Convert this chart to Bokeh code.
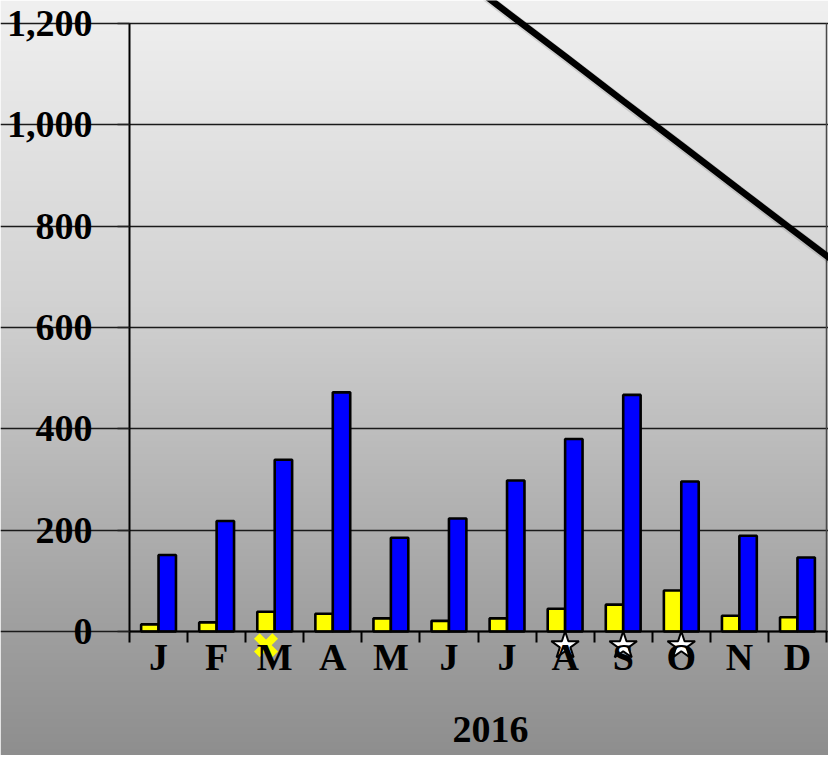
import numpy as np
from bokeh.plotting import figure
from bokeh.models import (FixedTicker, NumeralTickFormatter, CustomJSTickFormatter,
                          Range1d, Label, ColumnDataSource)
from bokeh.embed import file_html
from bokeh.resources import INLINE

# ---------------- data ----------------
months = ["J", "F", "M", "A", "M", "J", "J", "A", "S", "O", "N", "D"]
yellow_values = [14, 18, 39, 35, 26, 21, 26, 45, 53, 81, 31, 28]
blue_values = [151, 218, 339, 472, 185, 223, 298, 380, 467, 296, 189, 146]
# straight descending series (Jun 2016 .. Jan 2017), runs off the chart
trend_start_index = 5
trend_values = [1310, 1222, 1135, 1047, 960, 872, 785, 698]
y_ticks = [0, 200, 400, 600, 800, 1000, 1200]
year_label = "2016"
cross_months = [2]          # yellow X marker under March
star_months = [7, 8, 9]     # white stars under Aug, Sep, Oct
marker_level = -27

# ---------------- layout ----------------
W, H = 828, 755
n = len(months)
LEFT, RIGHT, TOP, ZERO = 129, 826, 23, 631
sx = (RIGHT - LEFT) / n
x0 = -LEFT / sx
x1 = x0 + W / sx
sy = (ZERO - TOP) / 1200
y1 = 1200 + TOP / sy
y0 = y1 - H / sy

FONT = "Liberation Serif"

p = figure(width=W, height=H, output_backend="svg", toolbar_location=None,
           x_range=Range1d(x0, x1), y_range=Range1d(y0, y1),
           x_axis_type="linear", y_axis_type="linear")
p.min_border = 0
p.min_border_left = 0
p.min_border_right = 0
p.min_border_top = 0
p.min_border_bottom = 0
p.outline_line_color = None
p.border_fill_color = None
p.background_fill_color = None

# background gradient (styling)
rows = np.arange(H)[::-1]  # picture y of each row, row 0 at bottom
stops_y = [0, 300, 600, 771]
stops_v = [240, 210, 163, 140]
vals = np.interp(rows, stops_y, stops_v).astype(np.uint8)
img = np.empty((H, 1), dtype=np.uint32)
view = img.view(dtype=np.uint8).reshape((H, 1, 4))
view[:, 0, 0] = vals
view[:, 0, 1] = vals
view[:, 0, 2] = vals
view[:, 0, 3] = 255
bg = p.image_rgba(image=[img], x=x0, y=y0, dw=x1 - x0, dh=y1 - y0)
bg.level = "image"

# grid
p.xgrid.visible = False
p.ygrid.grid_line_color = "#1a1a1a"
p.ygrid.grid_line_width = 1.3
p.ygrid.bounds = (0, n)

# right border of plot area
p.segment(x0=[n], y0=[0], x1=[n], y1=[max(y_ticks)], line_color="#4a4a4a", line_width=1.5)

# bars
idx = np.arange(n)
src = ColumnDataSource(dict(xy=idx + 0.35, xb=idx + 0.65, yv=yellow_values, bv=blue_values))
p.vbar(x="xy", top="yv", bottom=0, width=0.3, source=src,
       fill_color="#ffff00", line_color="black", line_width=2.6)
p.vbar(x="xb", top="bv", bottom=0, width=0.3, source=src,
       fill_color="#0000ff", line_color="black", line_width=2.6)

# descending line (soft shadow + line)
tx = np.arange(len(trend_values)) + trend_start_index + 0.5
p.line(tx + 0.03, [v - 4 for v in trend_values], line_color="#000000", line_alpha=0.12, line_width=9)
p.line(tx, trend_values, line_color="black", line_width=6.5)

# markers
p.scatter(x=[m + 0.35 for m in cross_months], y=[marker_level] * len(cross_months),
          marker="x", size=26, line_color="#ffff00", line_width=8)
p.scatter(x=[m + 0.5 for m in star_months], y=[marker_level - 1] * len(star_months),
          marker="star", size=29, fill_color="white", line_color="black", line_width=2)

# axes
yax = p.yaxis[0]
yax.fixed_location = 0
yax.ticker = FixedTicker(ticks=y_ticks)
yax.bounds = (0, max(y_ticks))
yax.formatter = NumeralTickFormatter(format="0,0")
yax.axis_line_width = 2
yax.axis_line_color = "black"
yax.major_tick_in = 0
yax.major_tick_out = 12
yax.major_tick_line_width = 1.5
yax.major_tick_line_color = "#222222"
yax.minor_tick_line_color = None
yax.major_label_standoff = 25
yax.major_label_text_font = FONT
yax.major_label_text_font_style = "bold"
yax.major_label_text_font_size = "38px"
yax.major_label_text_color = "black"

xax = p.xaxis[0]
xax.fixed_location = 0
xax.ticker = FixedTicker(ticks=list(idx + 0.5), minor_ticks=list(range(n + 1)))
xax.bounds = (0, n)
xax.formatter = CustomJSTickFormatter(args=dict(labels=months),
                                      code="return labels[Math.floor(tick)];")
xax.axis_line_width = 2
xax.axis_line_color = "black"
xax.major_tick_line_color = None
xax.major_tick_in = 0
xax.major_tick_out = 0
xax.minor_tick_in = 0
xax.minor_tick_out = 11
xax.minor_tick_line_width = 2
xax.minor_tick_line_color = "black"
xax.major_label_standoff = -7
xax.major_label_text_font = FONT
xax.major_label_text_font_style = "bold"
xax.major_label_text_font_size = "38px"
xax.major_label_text_color = "black"

# year title below the month labels
p.add_layout(Label(x=(490 - LEFT) / sx, y=y1 - 729 / sy, text=year_label,
                   text_align="center", text_baseline="middle",
                   text_font=FONT, text_font_style="bold", text_font_size="38px",
                   text_color="black"))

open("out.html", "w").write(file_html(p, INLINE))
